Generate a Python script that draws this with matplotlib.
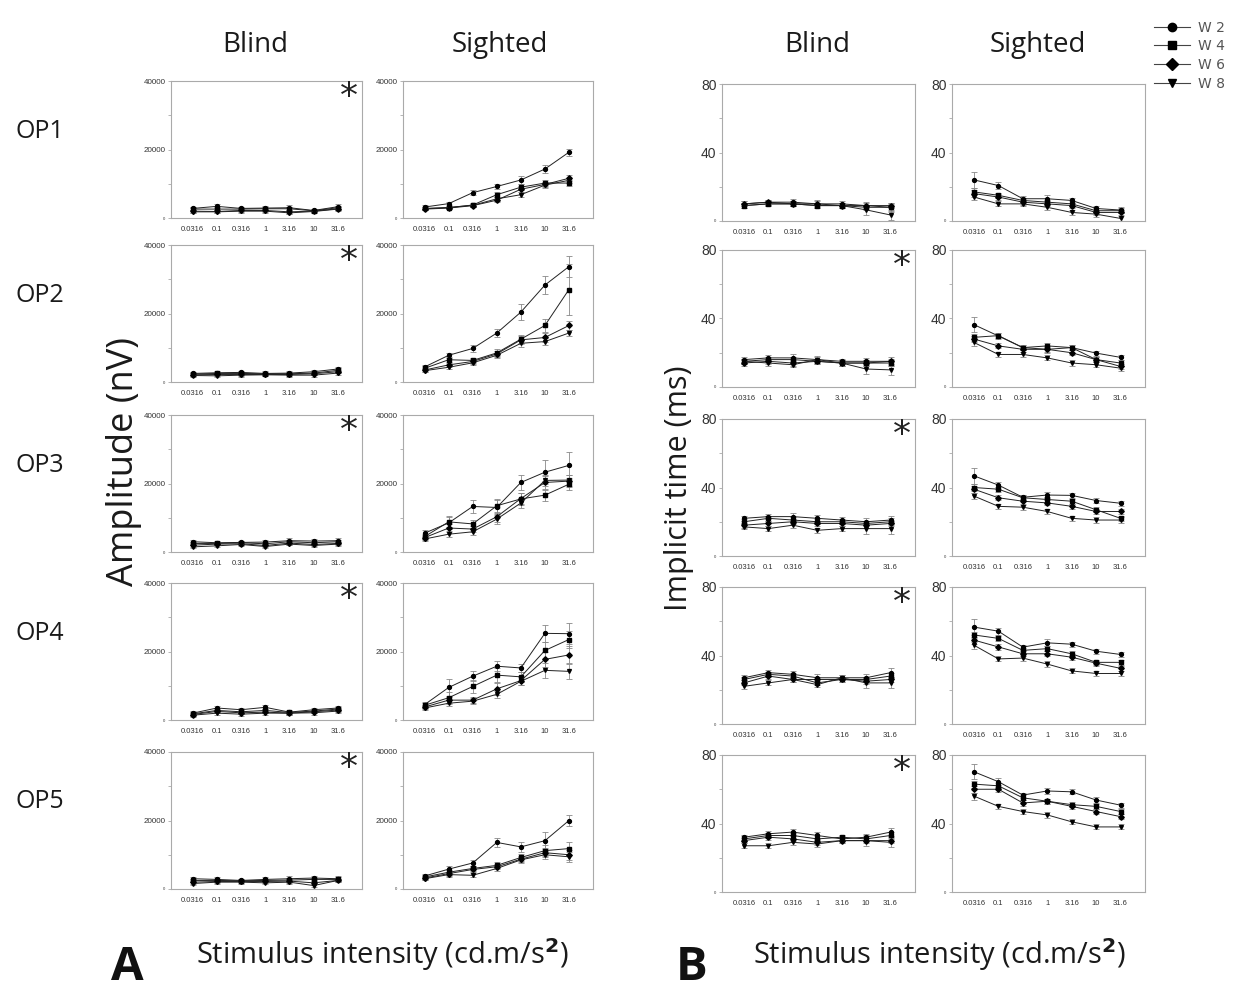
import matplotlib
matplotlib.use("Agg")
import matplotlib.pyplot as plt
from matplotlib.lines import Line2D

INTENSITY = ["0.0316", "0.1", "0.316", "1", "3.16", "10", "31.6"]
WEEKS = ["W 2", "W 4", "W 6", "W 8"]
MARKERS = ["o", "s", "D", "v"]
OPS = ["OP1", "OP2", "OP3", "OP4", "OP5"]

# ---- amplitude (nV), blind ----
AMP_BLIND_OP1 = [[2800, 3400, 2800, 2900, 3000, 2200, 3300],
                 [2600, 2600, 2600, 2700, 2700, 2100, 3000],
                 [2000, 1900, 2200, 2200, 1800, 2000, 2700],
                 [1800, 1800, 2000, 2000, 1500, 1900, 2600]]
AMP_BLIND_OP2 = [[2500, 2700, 2800, 2500, 2600, 3000, 3800],
                 [2300, 2500, 2500, 2400, 2400, 2600, 3400],
                 [2100, 2200, 2200, 2200, 2200, 2400, 3000],
                 [1900, 1800, 2000, 2100, 2000, 2000, 2600]]
AMP_BLIND_OP3 = [[3000, 2700, 2800, 2900, 3300, 3200, 3300],
                 [2500, 2500, 2700, 2400, 3000, 2700, 3000],
                 [2000, 2300, 2400, 1900, 2600, 2200, 2500],
                 [1500, 1800, 2200, 1600, 2300, 1900, 2300]]
AMP_BLIND_OP4 = [[2000, 3500, 3000, 3700, 2300, 3000, 3500],
                 [1800, 2800, 2400, 2800, 2200, 2600, 3200],
                 [1600, 2500, 2100, 2300, 2000, 2400, 2900],
                 [1400, 2000, 1700, 2000, 2000, 2100, 2600]]
AMP_BLIND_OP5 = [[3000, 2800, 2500, 2800, 3000, 3200, 3000],
                 [2500, 2500, 2400, 2500, 2600, 2800, 2800],
                 [2000, 2200, 2200, 2200, 2300, 1800, 2500],
                 [1600, 2000, 2000, 1800, 2000, 1000, 2500]]
AMP_BLIND_ERR = [[500, 600, 500, 600, 700, 500, 700],
                 [400, 500, 400, 500, 500, 400, 600],
                 [400, 400, 400, 400, 500, 400, 500],
                 [400, 400, 400, 400, 400, 500, 500]]

# ---- amplitude (nV), sighted ----
AMP_SIGHT_OP1 = [[3200, 4200, 7400, 9200, 11100, 14300, 19200],
                 [2800, 3000, 3800, 6800, 9000, 10200, 10200],
                 [2600, 2900, 3600, 5200, 8400, 9800, 11600],
                 [2700, 3100, 3700, 5600, 6800, 9600, 11000]]
AMP_SIGHT_OP2 = [[4400, 7800, 9800, 14300, 20400, 28300, 33700],
                 [4000, 6500, 6300, 8500, 12500, 16500, 27000],
                 [3500, 5000, 6000, 8200, 12300, 13000, 16500],
                 [3300, 4300, 5600, 7800, 11300, 11800, 14300]]
AMP_SIGHT_OP3 = [[5500, 8500, 13300, 13000, 20300, 23300, 25300],
                 [4500, 8800, 8200, 13500, 15500, 16600, 19800],
                 [4200, 7000, 6700, 10300, 15600, 20300, 20700],
                 [3800, 5200, 5900, 9600, 14300, 20900, 21000]]
AMP_SIGHT_OP4 = [[4500, 9500, 12800, 15700, 15200, 25300, 25200],
                 [4300, 6500, 9800, 13100, 12600, 20300, 23500],
                 [3800, 5800, 5800, 9100, 11500, 17700, 19000],
                 [3500, 4900, 5500, 7500, 11300, 14500, 14200]]
AMP_SIGHT_OP5 = [[3800, 5800, 7600, 13600, 12300, 14100, 20000],
                 [3500, 4900, 6000, 6900, 9200, 11200, 11800],
                 [3200, 4500, 5700, 6500, 8700, 10600, 10000],
                 [3000, 4200, 4000, 6000, 8500, 10000, 9400]]
AMP_SIGHT_ERR_OP1 = [[500, 500, 700, 700, 1200, 1300, 1000],
                     [400, 400, 500, 800, 900, 800, 1000],
                     [400, 400, 400, 600, 800, 700, 900],
                     [400, 400, 400, 600, 700, 700, 800]]
AMP_SIGHT_ERR_OP2 = [[700, 800, 1000, 1100, 2300, 2700, 3000],
                     [600, 900, 800, 1000, 1200, 2000, 7500],
                     [500, 700, 700, 900, 1100, 1300, 1200],
                     [500, 600, 600, 800, 1000, 1000, 800]]
AMP_SIGHT_ERR_OP3 = [[900, 1800, 1800, 2300, 2100, 3500, 4000],
                     [800, 1600, 1100, 2000, 1800, 1600, 1800],
                     [700, 1200, 1000, 1500, 1500, 1800, 1700],
                     [700, 900, 800, 1500, 1400, 1500, 1600]]
AMP_SIGHT_ERR_OP4 = [[900, 2500, 1500, 1500, 1200, 2500, 3000],
                     [800, 1600, 1800, 2000, 1500, 2500, 2600],
                     [700, 1000, 900, 1800, 1400, 2300, 2500],
                     [600, 800, 800, 1000, 1200, 2200, 2200]]
AMP_SIGHT_ERR_OP5 = [[700, 800, 900, 1200, 1500, 2400, 1700],
                     [600, 700, 800, 900, 1000, 1600, 1800],
                     [500, 600, 700, 800, 900, 1300, 1500],
                     [500, 600, 600, 700, 800, 1200, 1500]]

# ---- implicit time (ms), blind ----
IT_BLIND_OP1 = [[10, 11, 11, 10, 10, 9, 8],
                [9, 10, 10, 9, 9, 8, 8],
                [10, 11, 10, 10, 9, 9, 9],
                [9, 10, 10, 9, 9, 6.5, 3.5]]
IT_BLIND_OP2 = [[16, 17, 17, 16, 15, 15, 15],
                [15, 16, 16, 15, 14, 14, 14],
                [14, 15, 14, 15, 14, 14, 15],
                [15, 14, 13, 16, 14, 10.5, 10]]
IT_BLIND_OP3 = [[22, 23, 23, 22, 21, 20, 21],
                [20, 22, 21, 20, 20, 19, 20],
                [18, 19, 20, 19, 19, 18, 19],
                [17, 16, 18, 15, 16, 16, 16]]
IT_BLIND_OP4 = [[27, 30, 29, 27, 27, 27, 30],
                [26, 29, 28, 24, 26, 26, 28],
                [24, 28, 26, 26, 26, 25, 26],
                [22, 24, 26, 23, 27, 24, 24]]
IT_BLIND_OP5 = [[32, 34, 35, 33, 31, 32, 35],
                [31, 33, 33, 31, 32, 31, 33],
                [30, 32, 31, 29, 30, 30, 30],
                [27, 27, 29, 28, 30, 30, 29]]
IT_BLIND_ERR = [[1.5, 1.5, 2, 2, 1.5, 2, 2.5],
                [1.5, 1.5, 1.5, 1.5, 1.5, 1.5, 2],
                [1.5, 1.5, 1.5, 1.5, 1.5, 1.5, 1.5],
                [1.5, 1.5, 1.5, 1.5, 1.5, 3, 3]]

# ---- implicit time (ms), sighted ----
IT_SIGHT_OP1 = [[24, 20.7, 13, 13, 12, 7.3, 6.4],
                [17, 15, 12, 11, 10, 6, 6],
                [16, 14, 11, 10, 9, 5, 5],
                [14, 10, 10, 8, 5, 4, 1.5]]
IT_SIGHT_OP2 = [[36.4, 29.8, 23, 22, 23, 19.8, 17.3],
                [29, 30, 23, 24, 23, 16, 14],
                [28, 24, 22, 22, 20, 16, 12],
                [26, 19, 19, 17, 14, 13, 11]]
IT_SIGHT_OP3 = [[46.8, 41.4, 34.3, 35.6, 35.4, 32.4, 30.8],
                [40, 39, 34, 33, 32, 27, 22],
                [39, 34, 32, 31, 29, 26, 26],
                [35, 29, 28.5, 26, 22, 21, 21]]
IT_SIGHT_OP4 = [[56.6, 54.2, 44.9, 47.4, 46.6, 42.5, 40.6],
                [52, 50, 43, 44, 41, 36, 36],
                [49, 45, 41, 41, 39, 35.5, 32.5],
                [46, 38, 38.5, 35, 31, 29.5, 29.5]]
IT_SIGHT_OP5 = [[70.2, 64.4, 56.6, 59, 58.5, 53.7, 50.7],
                [63, 62, 55, 53, 51, 50, 47],
                [60, 60, 52, 53, 50, 47, 44],
                [56, 50, 47, 45, 41, 38, 38]]
IT_SIGHT_ERR = [[4.5, 2, 1.5, 2, 1.5, 1.5, 1.5],
                [2, 1.5, 1.5, 1.5, 1.5, 1.5, 1.5],
                [2, 1.5, 1.5, 1.5, 1.5, 1.5, 1.5],
                [2, 1.5, 1.5, 1.5, 1.5, 1.5, 1.5]]

AMP_BLIND = [AMP_BLIND_OP1, AMP_BLIND_OP2, AMP_BLIND_OP3, AMP_BLIND_OP4, AMP_BLIND_OP5]
AMP_SIGHT = [AMP_SIGHT_OP1, AMP_SIGHT_OP2, AMP_SIGHT_OP3, AMP_SIGHT_OP4, AMP_SIGHT_OP5]
AMP_SIGHT_ERR = [AMP_SIGHT_ERR_OP1, AMP_SIGHT_ERR_OP2, AMP_SIGHT_ERR_OP3,
                 AMP_SIGHT_ERR_OP4, AMP_SIGHT_ERR_OP5]
IT_BLIND = [IT_BLIND_OP1, IT_BLIND_OP2, IT_BLIND_OP3, IT_BLIND_OP4, IT_BLIND_OP5]
IT_SIGHT = [IT_SIGHT_OP1, IT_SIGHT_OP2, IT_SIGHT_OP3, IT_SIGHT_OP4, IT_SIGHT_OP5]

W, H = 1241, 993
TITLE_FONT = "Open Sans"
TICK_FONT = "Liberation Sans"
TEXT_COLOR = "#1a1a1a"


def ax_at(fig, left, top, width, height):
    return fig.add_axes([left / W, 1 - (top + height) / H, width / W, height / H])


def draw_panel(ax, series, errs, ymax, tick_size, zero_size, star):
    xs = list(range(len(INTENSITY)))
    for vals, err, mk in zip(series, errs, MARKERS):
        ax.errorbar(xs, vals, yerr=err, fmt="none", ecolor="#888888",
                    elinewidth=0.6, capsize=2.2, capthick=0.6, zorder=2)
        ax.plot(xs, vals, color="#222222", linewidth=0.7, marker=mk,
                markersize=2.8, markerfacecolor="black", markeredgecolor="black",
                zorder=3)
    ax.set_xlim(-0.9, 7.0)
    ax.set_ylim(0, ymax)
    ax.set_xticks(xs)
    ax.set_xticklabels(INTENSITY, fontsize=5.5, family=TICK_FONT, color="#333333")
    ax.tick_params(axis="x", length=0, pad=6)
    ax.set_yticks([0, ymax / 2, ymax])
    ax.set_yticks([ymax / 4, 3 * ymax / 4], minor=True)
    ax.set_yticklabels(["0", f"{int(ymax / 2)}", f"{int(ymax)}"],
                       fontsize=tick_size, family=TICK_FONT, color="#333333")
    ax.get_yticklabels()[0].set_fontsize(zero_size)
    ax.tick_params(axis="y", which="both", length=2.5, width=0.5,
                   color="#999999", pad=1.5)
    for sp in ax.spines.values():
        sp.set_color("#aaaaaa")
        sp.set_linewidth(0.8)
    if star:
        ax.text(0.93, 0.88, "*", transform=ax.transAxes, ha="center",
                va="center", fontsize=26, color="#222222", family="DejaVu Sans")


fig = plt.figure(figsize=(W / 100, H / 100), dpi=100)

TOPS_A = [81, 245, 415, 583, 752]
TOPS_B = [84, 250, 419, 587, 755]
ROW_H = 137

for i in range(5):
    a1 = ax_at(fig, 171, TOPS_A[i], 191, ROW_H)
    draw_panel(a1, AMP_BLIND[i], AMP_BLIND_ERR, 40000, 5.8, 3, True)
    a2 = ax_at(fig, 403, TOPS_A[i], 190, ROW_H)
    draw_panel(a2, AMP_SIGHT[i], AMP_SIGHT_ERR[i], 40000, 5.8, 3, False)
    b1 = ax_at(fig, 722, TOPS_B[i], 193, ROW_H)
    draw_panel(b1, IT_BLIND[i], IT_BLIND_ERR, 80, 10, 3, i > 0)
    b2 = ax_at(fig, 952, TOPS_B[i], 193, ROW_H)
    draw_panel(b2, IT_SIGHT[i], IT_SIGHT_ERR, 80, 10, 3, False)
    fig.text(40 / W, 1 - (TOPS_A[i] + 50) / H, OPS[i], ha="center", va="center",
             fontsize=18, family=TITLE_FONT, color=TEXT_COLOR)

# column titles
for x, lab in [(255, "Blind"), (500, "Sighted"), (817, "Blind"), (1038, "Sighted")]:
    fig.text(x / W, 1 - 45 / H, lab, ha="center", va="center", fontsize=20,
             family=TITLE_FONT, color=TEXT_COLOR)

fig.text(124 / W, 1 - 461 / H, "Amplitude (nV)", rotation=90, ha="center",
         va="center", fontsize=26, family=TITLE_FONT, color=TEXT_COLOR)
fig.text(679 / W, 1 - 488 / H, "Implicit time (ms)", rotation=90, ha="center",
         va="center", fontsize=22, family=TITLE_FONT, color=TEXT_COLOR)

for x in [383, 940]:
    fig.text(x / W, 1 - 955 / H, "Stimulus intensity (cd.m/s$^\\mathbf{2}$)",
             ha="center", va="center", fontsize=21, family=TITLE_FONT,
             color=TEXT_COLOR)

fig.text(127 / W, 1 - 967 / H, "A", ha="center", va="center", fontsize=34,
         fontweight="bold", family=TITLE_FONT, color="#111111")
fig.text(692 / W, 1 - 967 / H, "B", ha="center", va="center", fontsize=34,
         fontweight="bold", family=TITLE_FONT, color="#111111")

# legend
handles = [Line2D([0], [0], color="#444444", linewidth=0.8, marker=mk,
                  markersize=6, markerfacecolor="black", markeredgecolor="black")
           for mk in MARKERS]
fig.legend(handles, WEEKS, loc="upper right", bbox_to_anchor=(1238 / W, 1 - 8 / H),
           frameon=False, fontsize=10, handlelength=2.6, handletextpad=0.6,
           labelspacing=0.35, labelcolor="#555555")

fig.savefig("out.png", dpi=100)
